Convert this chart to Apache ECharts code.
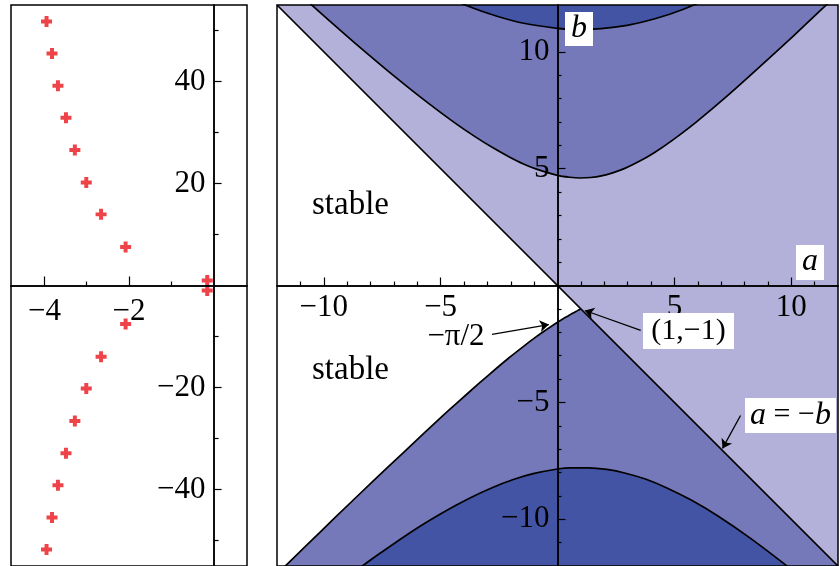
<!DOCTYPE html>
<html lang="en">
<head>
<meta charset="UTF-8">
<title>Stability chart</title>
<script src="https://cdn.jsdelivr.net/npm/echarts@6/dist/echarts.min.js"></script>
<style>
  html, body { margin: 0; background: #fff; }
  #container { width: 840px; height: 566px; }
</style>
</head>
<body>
<div id="container"></div>
<script>
// left panel: characteristic roots (re, +/- im)
let rootRe = [-3.95, -3.82, -3.68, -3.49, -3.28, -3.01, -2.66, -2.08, -0.15];
let rootIm = [51.75, 45.5, 39.15, 32.9, 26.55, 20.2, 13.95, 7.55, 1.0];

// left panel ticks / labels
let leftXMinor = [-3, -1];
let leftXLabels = [-4, -2];
let leftYMinor = [-50, -30, -10, 10, 30, 50];
let leftYLabels = [-40, -20, 20, 40];

// right panel ticks / labels
let rightMinor = [-11, -9, -8, -7, -6, -4, -3, -2, -1, 1, 2, 3, 4, 6, 7, 8, 9, 11];
let rightLabels = [-10, -5, 5, 10];

// right panel boundary curves, (a, b)
let lineAB = [[-12, 12], [12, -12]];
let curve1 = [[1.0, -1.0], [0.98, -1.01], [0.92, -1.04], [0.81, -1.10], [0.64, -1.19], [0.47, -1.29],
  [0.24, -1.42], [0, -1.57], [-0.42, -1.85], [-0.92, -2.20], [-1.41, -2.57], [-2.06, -3.08],
  [-2.62, -3.55], [-3.35, -4.18], [-4.32, -5.04], [-4.95, -5.61], [-5.71, -6.32], [-6.66, -7.21],
  [-7.88, -8.36], [-9.50, -9.91], [-10.72, -11.10], [-11.77, -12.12]];
let curve2Upper = [[11.97, 12.45], [10.83, 11.37], [9.34, 9.98], [7.30, 8.14], [5.92, 6.98], [4.91, 6.21],
  [4.12, 5.67], [3.46, 5.29], [2.88, 5.01], [2.36, 4.82], [1.88, 4.69], [1.42, 4.62], [0.97, 4.60],
  [0.52, 4.63], [0, 4.71], [-0.93, 4.99], [-1.48, 5.21], [-2.08, 5.51], [-2.76, 5.89], [-3.53, 6.37],
  [-4.44, 6.99], [-5.53, 7.80], [-6.88, 8.87], [-8.64, 10.35], [-9.74, 11.31], [-11.05, 12.48]];
let curve2Lower = [[11.14, -13.07], [10.06, -12.19], [8.29, -10.84], [6.88, -9.87], [5.70, -9.17],
  [4.68, -8.66], [3.76, -8.28], [2.91, -8.03], [2.11, -7.87], [1.33, -7.80], [0.55, -7.80], [0, -7.85],
  [-1.04, -8.05], [-1.89, -8.30], [-2.80, -8.65], [-3.79, -9.11], [-4.90, -9.71], [-6.18, -10.49],
  [-7.67, -11.51], [-8.53, -12.13]];
let curve3Upper = [[8.19, 13.18], [6.69, 12.39], [5.36, 11.81], [4.13, 11.40], [2.98, 11.13], [1.87, 10.99],
  [0.78, 10.95], [0, 11.0], [-1.45, 11.22], [-2.62, 11.53], [-3.87, 11.97], [-5.23, 12.57]];
let plotCorners = [[-12.5, -12.5], [12.5, -12.5], [12.5, 12.5], [-12.5, 12.5]];

// annotation arrows [from, to] in (a, b)
let arrows = [
  [[-2.8, -2.09], [-0.37, -1.67]],
  [[3.56, -1.92], [1.17, -1.07]],
  [[7.83, -5.56], [7.06, -6.97]]
];

const FONT = 'Liberation Serif';
const LIGHT = '#b3b1d9';
const MEDIUM = '#7679b9';
const DARK = '#4254a3';

// panel boxes and ranges
const LEFT_BOX = {left: 11, top: 5, width: 236, height: 561};
const RIGHT_BOX = {left: 277, top: 5, width: 561, height: 561};
const LEFT_X = [-4.79, 0.79], LEFT_Y = [-55, 55];
const RIGHT_X = [-12, 12], RIGHT_Y = [-12, 12];

function fmt(v) {
  return String(v).replace('-', '\u2212');
}

// distance from the grid's left/bottom edge to the zero line
function zeroFromStart(size, range) {
  return size * (0 - range[0]) / (range[1] - range[0]);
}

function baseAxis(gridIndex, range, offset, ticks, tickLen) {
  return {
    gridIndex: gridIndex, type: 'value', min: range[0], max: range[1], z: 10,
    offset: offset,
    splitLine: {show: false},
    axisLine: {onZero: false, lineStyle: {color: '#000', width: 1.5}},
    axisTick: {inside: true, length: tickLen, customValues: ticks, lineStyle: {color: '#000', width: 1.2}},
    axisLabel: {show: false}
  };
}

function labelled(axis, labels, margin, padding) {
  axis.axisLabel = {
    customValues: labels, formatter: fmt, fontFamily: FONT, fontSize: 31, color: '#000',
    margin: margin, padding: padding || 0
  };
  return axis;
}

function region(pts, color) {
  return {
    type: 'custom', xAxisIndex: 2, yAxisIndex: 2, clip: true, silent: true,
    data: pts,
    renderItem: function (params, api) {
      if (params.dataIndex !== 0) return;
      let points = pts.map(function (p) { return api.coord(p); });
      return {type: 'polygon', shape: {points: points}, style: {fill: color}};
    }
  };
}

function boundary(pts) {
  return {
    type: 'line', xAxisIndex: 2, yAxisIndex: 2, data: pts, showSymbol: false, silent: true,
    smooth: 0.2, lineStyle: {color: '#000', width: 1.7}
  };
}

let rootData = [];
rootRe.forEach(function (re, i) {
  rootData.push([re, rootIm[i]]);
  rootData.push([re, -rootIm[i]]);
});

let whiteRegion = [[-12.5, 12.5], [0, 0]].concat(curve1).concat([[-12.5, -12.5]]);
let mediumLower = curve1.concat([[12.12, -12.12]]);

let abLine = boundary(lineAB);
abLine.markLine = {
  silent: true,
  symbol: ['none', 'arrow'],
  symbolSize: 9,
  label: {show: false},
  lineStyle: {color: '#000', width: 1.3, type: 'solid'},
  data: arrows.map(function (ar) {
    return [{coord: ar[0]}, {coord: ar[1]}];
  })
};

function textEl(x, y, rich, text, size) {
  return {
    type: 'text', x: x, y: y, z: 100,
    style: {
      text: text, fontFamily: FONT, fontSize: size || 31, fill: '#000',
      align: 'center', verticalAlign: 'middle', rich: rich
    }
  };
}

function boxEl(x, y, w, h) {
  return {type: 'rect', z: 99, shape: {x: x, y: y, width: w, height: h}, style: {fill: '#fff'}};
}

let italic = {i: {fontStyle: 'italic', fontFamily: FONT, fontSize: 32}};

function gridOf(box, show) {
  return Object.assign({
    show: show, borderColor: '#000', borderWidth: 1.5, z: show ? 20 : 0,
    outerBoundsMode: 'none', containLabel: false
  }, box);
}

let lxOff = -zeroFromStart(LEFT_BOX.height, LEFT_Y);
let lyOff = -zeroFromStart(LEFT_BOX.width, LEFT_X);
let rxOff = -zeroFromStart(RIGHT_BOX.height, RIGHT_Y);
let ryOff = -zeroFromStart(RIGHT_BOX.width, RIGHT_X);

let chart = echarts.init(document.getElementById('container'));
chart.setOption({
  animation: false,
  backgroundColor: '#fff',
  grid: [
    gridOf(LEFT_BOX, false),
    gridOf(LEFT_BOX, true),
    gridOf(RIGHT_BOX, false),
    gridOf(RIGHT_BOX, true)
  ],
  xAxis: [
    labelled(baseAxis(0, LEFT_X, lxOff, leftXMinor, 4), leftXLabels, 11),
    baseAxis(1, LEFT_X, lxOff, leftXLabels, 9),
    labelled(baseAxis(2, RIGHT_X, rxOff, rightMinor, 4), rightLabels, 7),
    baseAxis(3, RIGHT_X, rxOff, rightLabels, 8)
  ],
  yAxis: [
    labelled(baseAxis(0, LEFT_Y, lyOff, leftYMinor, 5), leftYLabels, 8, [6, 0, 0, 0]),
    baseAxis(1, LEFT_Y, lyOff, leftYLabels, 8),
    labelled(baseAxis(2, RIGHT_Y, ryOff, rightMinor, 4), rightLabels, 8, [5, 0, 0, 0]),
    baseAxis(3, RIGHT_Y, ryOff, rightLabels, 8)
  ],
  series: [
    {
      type: 'scatter', xAxisIndex: 0, yAxisIndex: 0, data: rootData, silent: true,
      symbol: 'path://M3.2,0H6.8V3.2H10V6.8H6.8V10H3.2V6.8H0V3.2H3.2Z',
      symbolSize: 11, itemStyle: {color: '#e8141c'}
    },
    region(plotCorners, LIGHT),
    region(whiteRegion, '#ffffff'),
    region(curve2Upper, MEDIUM),
    region(mediumLower, MEDIUM),
    region(curve3Upper, DARK),
    region(curve2Lower, DARK),
    abLine,
    boundary(curve1),
    boundary(curve2Upper),
    boundary(curve2Lower),
    boundary(curve3Upper)
  ],
  graphic: [
    textEl(350.5, 205, null, 'stable', 33),
    textEl(350.5, 370, null, 'stable', 33),
    textEl(456, 337, null, '\u2212\u03c0/2'),
    boxEl(565, 12, 28, 34),
    textEl(579, 29, italic, '{i|b}'),
    boxEl(796, 245, 28, 35),
    textEl(810, 262, italic, '{i|a}'),
    boxEl(643, 313, 91, 36),
    textEl(688.5, 331, null, '(1,\u22121)', 30),
    boxEl(745, 398, 91, 35),
    textEl(790.5, 415.5, italic, '{i|a} = \u2212{i|b}', 30)
  ]
});
</script>
</body>
</html>
